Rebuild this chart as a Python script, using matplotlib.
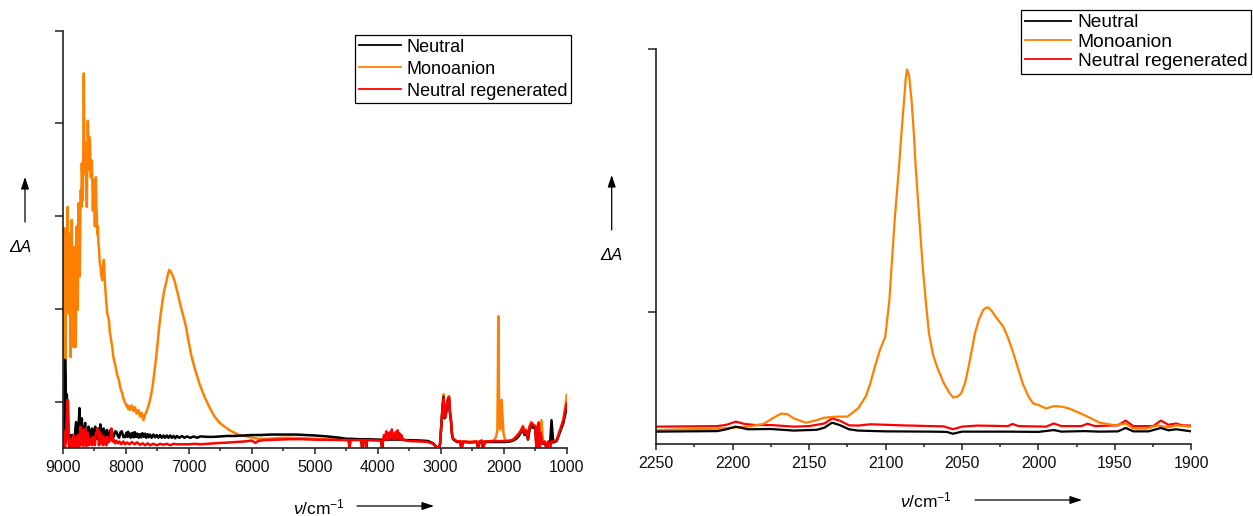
import numpy as np
import matplotlib
matplotlib.use("Agg")
import matplotlib.pyplot as plt
from matplotlib.patches import FancyArrowPatch
from matplotlib.ticker import MultipleLocator, NullFormatter

plt.rcParams["font.family"] = ["Liberation Sans", "DejaVu Sans"]
plt.rcParams["mathtext.fontset"] = "custom"
plt.rcParams["mathtext.rm"] = "Liberation Sans"
plt.rcParams["mathtext.it"] = "Liberation Sans:italic"

# ---------------- full range spectra (left panel) ----------------
series_names = ["Neutral", "Monoanion", "Neutral regenerated"]
series_colors = ["#000000", "#FF8000", "#FF0000"]

# monoanion, 9000-4600 cm-1
mono_x = [9000, 8997, 8984, 8976, 8968, 8960, 8952, 8944, 8936, 8928, 8920, 8912,
          8904, 8896, 8888, 8880, 8872, 8864, 8856, 8848, 8840, 8832, 8824, 8816,
          8809, 8801, 8793, 8785, 8777, 8769, 8761, 8753, 8745, 8737, 8729, 8721,
          8713, 8705, 8697, 8689, 8681, 8673, 8665, 8657, 8649, 8641, 8633, 8625,
          8617, 8609, 8601, 8593, 8585, 8577, 8569, 8561, 8553, 8545, 8537, 8529,
          8521, 8513, 8505, 8497, 8489, 8481, 8473, 8465, 8457, 8449, 8441, 8433,
          8426, 8412, 8399, 8385, 8372, 8359, 8346, 8332, 8319, 8306, 8293, 8280,
          8266, 8252, 8239, 8226, 8213, 8200, 8186, 8173, 8160, 8146, 8133, 8120,
          8106, 8093, 8080, 8066, 8053, 8040, 8026, 8013, 8000, 7987, 7973, 7960,
          7947, 7933, 7920, 7907, 7894, 7880, 7867, 7853, 7840, 7827, 7813, 7800,
          7787, 7773, 7760, 7747, 7734, 7720, 7707, 7694, 7681, 7655, 7628, 7600,
          7574, 7548, 7521, 7495, 7468, 7441, 7415, 7388, 7362, 7335, 7309, 7282,
          7255, 7228, 7202, 7175, 7149, 7122, 7096, 7070, 7043, 7015, 6960, 6900,
          6833, 6760, 6700, 6640, 6590, 6520, 6450, 6347, 6200, 6044, 5900, 5740,
          5500, 5376, 5200, 5000, 4800, 4600]
mono_y = [0.15, 2.35, 1.45, 2.20, 2.37, 1.30, 0.95, 1.90, 1.67, 2.10, 2.60, 1.80,
          1.45, 1.95, 2.31, 1.50, 0.98, 1.80, 2.46, 2.00, 1.67, 1.20, 1.09, 1.70,
          2.17, 1.60, 1.09, 1.90, 2.39, 1.80, 1.49, 2.20, 2.64, 2.10, 1.85, 2.40,
          2.78, 2.60, 3.07, 2.90, 2.67, 3.20, 4.04, 3.30, 2.96, 3.10, 3.28, 2.90,
          2.60, 3.20, 3.53, 3.30, 3.00, 3.20, 3.35, 3.10, 2.92, 3.05, 3.10, 2.80,
          2.56, 2.75, 2.89, 2.60, 2.39, 2.70, 2.92, 2.60, 2.46, 2.30, 2.39, 2.20,
          2.17, 2.00, 1.95, 1.85, 1.81, 1.95, 2.03, 1.80, 1.67, 1.55, 1.45, 1.42,
          1.38, 1.25, 1.20, 1.14, 1.09, 1.00, 0.95, 0.91, 0.88, 0.83, 0.78, 0.76,
          0.73, 0.67, 0.64, 0.61, 0.59, 0.54, 0.52, 0.49, 0.48, 0.45, 0.46, 0.42,
          0.45, 0.41, 0.43, 0.46, 0.45, 0.40, 0.41, 0.44, 0.41, 0.37, 0.38, 0.41,
          0.39, 0.34, 0.36, 0.38, 0.34, 0.30, 0.32, 0.36, 0.37, 0.42, 0.48, 0.56,
          0.66, 0.80, 0.95, 1.12, 1.31, 1.46, 1.59, 1.70, 1.77, 1.86, 1.92, 1.90,
          1.86, 1.81, 1.74, 1.67, 1.59, 1.52, 1.45, 1.38, 1.31, 1.20, 1.00, 0.85,
          0.70, 0.57, 0.48, 0.40, 0.34, 0.28, 0.24, 0.19, 0.14, 0.12, 0.10, 0.10,
          0.11, 0.11, 0.105, 0.10, 0.095, 0.09]

# neutral, 9000-4600 cm-1
neut_x = [9000, 8985, 8970, 8962, 8950, 8935, 8920, 8905, 8893, 8880, 8866, 8850,
          8840, 8826, 8813, 8800, 8787, 8773, 8760, 8747, 8734, 8726, 8718, 8707,
          8696, 8683, 8670, 8657, 8643, 8630, 8616, 8603, 8590, 8577, 8563, 8550,
          8536, 8523, 8510, 8497, 8483, 8470, 8456, 8443, 8430, 8417, 8403, 8390,
          8376, 8363, 8350, 8336, 8323, 8310, 8296, 8280, 8264, 8245, 8227, 8208,
          8190, 8168, 8147, 8125, 8104, 8083, 8062, 8038, 8014, 7988, 7975, 7961,
          7948, 7934, 7920, 7907, 7894, 7880, 7867, 7854, 7834, 7814, 7794, 7774,
          7754, 7734, 7714, 7694, 7674, 7654, 7634, 7614, 7588, 7561, 7534, 7508,
          7481, 7455, 7428, 7401, 7375, 7348, 7321, 7294, 7268, 7241, 7214, 7188,
          7148, 7108, 7068, 7028, 6975, 6920, 6868, 6815, 6700, 6602, 6500, 6388,
          6250, 6122, 6000, 5855, 5700, 5500, 5300, 5000, 4800, 4600]
neut_y = [0.00, 0.02, 0.15, 0.95, 0.55, 0.58, 0.40, 0.10, 0.10, 0.02, 0.14, 0.03,
          0.14, 0.05, 0.03, 0.20, 0.28, 0.06, 0.07, 0.25, 0.43, 0.10, 0.03, 0.20,
          0.32, 0.08, 0.07, 0.20, 0.27, 0.05, 0.09, 0.18, 0.23, 0.06, 0.09, 0.18,
          0.21, 0.08, 0.10, 0.20, 0.23, 0.10, 0.10, 0.18, 0.21, 0.11, 0.255, 0.10,
          0.12, 0.20, 0.21, 0.12, 0.12, 0.18, 0.195, 0.13, 0.12, 0.19, 0.195, 0.13,
          0.12, 0.18, 0.175, 0.13, 0.11, 0.17, 0.18, 0.12, 0.115, 0.165, 0.12, 0.175,
          0.125, 0.15, 0.11, 0.16, 0.12, 0.165, 0.115, 0.17, 0.12, 0.155, 0.11, 0.15,
          0.115, 0.16, 0.12, 0.155, 0.11, 0.15, 0.115, 0.145, 0.11, 0.145, 0.115, 0.14,
          0.11, 0.14, 0.11, 0.135, 0.11, 0.135, 0.11, 0.135, 0.11, 0.13, 0.105, 0.13,
          0.11, 0.13, 0.11, 0.125, 0.11, 0.125, 0.11, 0.125, 0.12, 0.12, 0.125, 0.13,
          0.13, 0.135, 0.14, 0.14, 0.145, 0.145, 0.145, 0.135, 0.125, 0.11]

# neutral regenerated, 9000-4600 cm-1
regen_x = [9000, 8992, 8984, 8976, 8960, 8945, 8925, 8915, 8905, 8893, 8880, 8866,
           8855, 8840, 8826, 8813, 8800, 8787, 8773, 8760, 8747, 8734, 8718, 8707,
           8696, 8683, 8670, 8657, 8638, 8625, 8610, 8600, 8585, 8570, 8550, 8535,
           8520, 8505, 8490, 8475, 8456, 8440, 8425, 8410, 8395, 8380, 8365, 8350,
           8335, 8320, 8305, 8290, 8270, 8245, 8227, 8210, 8190, 8170, 8150, 8125,
           8100, 8070, 8040, 8010, 7980, 7940, 7900, 7860, 7820, 7774, 7730, 7694,
           7650, 7614, 7560, 7508, 7450, 7401, 7350, 7294, 7240, 7188, 7100, 7000,
           6900, 6815, 6700, 6602, 6500, 6388, 6250, 6122, 6000, 5940, 5900, 5800,
           5600, 5400, 5200, 5000, 4800, 4600]
regen_y = [0.00, 0.19, 0.19, 0.00, 0.02, 0.10, 0.52, 0.50, 0.05, 0.00, 0.05, 0.10,
           0.00, 0.10, 0.14, 0.00, 0.08, 0.10, 0.02, 0.14, 0.00, 0.05, 0.23, 0.03,
           0.05, 0.20, 0.02, 0.10, 0.21, 0.02, 0.10, 0.16, 0.03, 0.06, 0.10, 0.03,
           0.12, 0.05, 0.03, 0.15, 0.18, 0.21, 0.03, 0.17, 0.05, 0.14, 0.03, 0.12,
           0.04, 0.10, 0.03, 0.12, 0.06, 0.10, 0.21, 0.07, 0.09, 0.05, 0.08, 0.05,
           0.07, 0.04, 0.07, 0.04, 0.06, 0.04, 0.065, 0.04, 0.06, 0.035, 0.05, 0.03,
           0.05, 0.03, 0.045, 0.03, 0.045, 0.035, 0.045, 0.03, 0.045, 0.04, 0.04, 0.04,
           0.045, 0.04, 0.045, 0.05, 0.055, 0.058, 0.065, 0.07, 0.08, 0.055, 0.075, 0.085,
           0.09, 0.095, 0.095, 0.09, 0.088, 0.086]

# low wavenumber part on a shared x grid, 4500-1000 cm-1
tail_x = [4500, 4460, 4447, 4435, 4300, 4260, 4247, 4235, 4195, 4183, 4171, 4000,
          3945, 3930, 3915, 3900, 3880, 3865, 3850, 3835, 3820, 3805, 3790, 3775,
          3760, 3745, 3730, 3715, 3700, 3685, 3670, 3655, 3640, 3625, 3600, 3560,
          3500, 3300, 3200, 3120, 3080, 3050, 3030, 3010, 2990, 2970, 2955, 2940,
          2926, 2912, 2900, 2880, 2868, 2855, 2837, 2820, 2805, 2742, 2689, 2675,
          2663, 2650, 2531, 2425, 2410, 2399, 2385, 2346, 2330, 2319, 2305, 2267,
          2161, 2120, 2100, 2092, 2086, 2080, 2070, 2055, 2045, 2032, 2020, 2003,
          1976, 1900, 1850, 1800, 1760, 1722, 1695, 1668, 1642, 1615, 1588, 1561,
          1535, 1497, 1481, 1465, 1444, 1428, 1412, 1401, 1375, 1348, 1321, 1294,
          1267, 1241, 1214, 1160, 1107, 1053, 1011, 1000]
regen_tail = [0.085, 0.085, 0.0, 0.085, 0.085, 0.085, 0.0, 0.085, 0.085, 0.0, 0.085, 0.08,
              0.08, 0.0, 0.08, 0.14, 0.09, 0.18, 0.10, 0.16, 0.09, 0.17, 0.11, 0.20,
              0.10, 0.15, 0.09, 0.17, 0.11, 0.19, 0.10, 0.16, 0.09, 0.14, 0.09, 0.085,
              0.075, 0.07, 0.065, 0.045, 0.02, 0.0, 0.0, 0.05, 0.25, 0.45, 0.54, 0.33,
              0.34, 0.40, 0.48, 0.54, 0.55, 0.40, 0.30, 0.15, 0.105, 0.07, 0.075, 0.01,
              0.01, 0.07, 0.065, 0.07, 0.01, 0.01, 0.07, 0.08, 0.01, 0.01, 0.07, 0.07,
              0.075, 0.075, 0.075, 0.075, 0.075, 0.075, 0.075, 0.075, 0.075, 0.075, 0.075, 0.075,
              0.075, 0.08, 0.09, 0.12, 0.15, 0.19, 0.23, 0.16, 0.19, 0.10, 0.23, 0.27,
              0.25, 0.23, 0.01, 0.21, 0.27, 0.0, 0.16, 0.08, 0.05, 0.07, 0.0, 0.07,
              0.0, 0.07, 0.07, 0.085, 0.19, 0.30, 0.45, 0.48]
neut_tail = [0.10, 0.10, 0.0, 0.10, 0.095, 0.095, 0.0, 0.095, 0.095, 0.0, 0.095, 0.09,
             0.09, 0.0, 0.09, 0.09, 0.09, 0.10, 0.09, 0.10, 0.09, 0.10, 0.09, 0.11,
             0.09, 0.10, 0.09, 0.10, 0.09, 0.11, 0.09, 0.10, 0.09, 0.09, 0.09, 0.085,
             0.085, 0.08, 0.075, 0.05, 0.02, 0.0, 0.0, 0.04, 0.24, 0.44, 0.55, 0.32,
             0.33, 0.39, 0.47, 0.53, 0.54, 0.39, 0.29, 0.14, 0.095, 0.065, 0.065, 0.01,
             0.01, 0.065, 0.06, 0.065, 0.01, 0.01, 0.065, 0.07, 0.01, 0.01, 0.065, 0.065,
             0.065, 0.065, 0.065, 0.065, 0.065, 0.065, 0.065, 0.065, 0.065, 0.065, 0.065, 0.065,
             0.065, 0.07, 0.08, 0.10, 0.13, 0.17, 0.20, 0.14, 0.17, 0.09, 0.20, 0.24,
             0.22, 0.21, 0.01, 0.19, 0.24, 0.0, 0.14, 0.07, 0.045, 0.06, 0.0, 0.06,
             0.0, 0.30, 0.06, 0.075, 0.17, 0.27, 0.40, 0.44]
mono_tail = [0.09, 0.09, 0.0, 0.09, 0.088, 0.088, 0.0, 0.088, 0.088, 0.0, 0.088, 0.085,
             0.085, 0.0, 0.085, 0.12, 0.09, 0.15, 0.10, 0.14, 0.09, 0.15, 0.10, 0.17,
             0.10, 0.13, 0.09, 0.15, 0.10, 0.16, 0.10, 0.14, 0.09, 0.12, 0.09, 0.085,
             0.08, 0.075, 0.07, 0.045, 0.02, 0.0, 0.0, 0.05, 0.26, 0.46, 0.58, 0.34,
             0.35, 0.41, 0.49, 0.55, 0.56, 0.41, 0.31, 0.15, 0.10, 0.07, 0.07, 0.01,
             0.01, 0.07, 0.065, 0.07, 0.01, 0.01, 0.07, 0.08, 0.01, 0.01, 0.07, 0.07,
             0.08, 0.12, 0.20, 0.80, 1.42, 0.80, 0.30, 0.20, 0.35, 0.52, 0.35, 0.16,
             0.08, 0.075, 0.09, 0.13, 0.16, 0.20, 0.24, 0.17, 0.20, 0.11, 0.24, 0.28,
             0.26, 0.24, 0.01, 0.22, 0.28, 0.0, 0.17, 0.30, 0.06, 0.07, 0.0, 0.07,
             0.0, 0.07, 0.07, 0.08, 0.18, 0.31, 0.50, 0.57]

# ---------------- CN stretch region (right panel) ----------------
zoom_mono_x = [2250, 2230, 2210, 2200, 2190, 2180, 2172, 2168, 2164, 2160, 2152, 2146,
               2140, 2132, 2125, 2118, 2113, 2110, 2107, 2103.7, 2100.2, 2097.5, 2096.1,
               2093.9, 2091.2, 2089.5, 2087.9, 2086.8, 2086, 2084.6, 2083, 2081.5, 2080.3,
               2078, 2075.7, 2073.5, 2071.6, 2069, 2066.2, 2062, 2058, 2055.8, 2053,
               2050.6, 2048, 2045.7, 2043.5, 2041.6, 2038.8, 2036.2, 2034.5, 2032.9, 2030.5,
               2028, 2023.1, 2020, 2017.1, 2013.5, 2010.3, 2006.5, 2003.5, 2000, 1995,
               1990, 1985, 1980, 1970, 1960, 1950, 1943, 1938, 1930, 1922, 1915, 1910, 1900]
zoom_mono_y = [0.053, 0.056, 0.058, 0.062, 0.066, 0.076, 0.104, 0.116, 0.113, 0.097, 0.081, 0.089,
               0.100, 0.104, 0.104, 0.135, 0.180, 0.230, 0.294, 0.357, 0.408, 0.547, 0.673,
               0.863, 1.053, 1.190, 1.306, 1.390, 1.423, 1.400, 1.306, 1.180, 1.053,
               0.860, 0.673, 0.530, 0.420, 0.340, 0.291, 0.232, 0.192, 0.177, 0.180,
               0.192, 0.232, 0.294, 0.360, 0.420, 0.475, 0.509, 0.517, 0.519, 0.505,
               0.484, 0.446, 0.405, 0.357, 0.290, 0.230, 0.180, 0.154, 0.148, 0.135,
               0.144, 0.142, 0.135, 0.110, 0.081, 0.071, 0.078, 0.059, 0.058, 0.071, 0.063, 0.071, 0.066]

zoom_regen_x = [2250, 2230, 2210, 2204, 2198, 2192, 2185, 2175, 2160, 2150, 2140, 2135,
                2130, 2124, 2118, 2110, 2090, 2070, 2062, 2056, 2050, 2040, 2020, 2017,
                2013, 1995, 1990, 1985, 1972, 1968, 1963, 1948, 1943, 1938, 1925, 1920,
                1915, 1910, 1906, 1900]
zoom_regen_y = [0.066, 0.067, 0.068, 0.073, 0.085, 0.076, 0.072, 0.072, 0.066, 0.068, 0.078, 0.097,
                0.089, 0.071, 0.070, 0.075, 0.071, 0.068, 0.067, 0.056, 0.066, 0.070, 0.068, 0.076,
                0.068, 0.066, 0.078, 0.068, 0.068, 0.077, 0.068, 0.071, 0.089, 0.068, 0.068, 0.089,
                0.073, 0.078, 0.071, 0.070]

zoom_neut_x = [2250, 2210, 2204, 2198, 2190, 2175, 2160, 2145, 2140, 2135, 2130, 2124,
               2118, 2100, 2070, 2060, 2056, 2050, 2020, 2000, 1990, 1985, 1970, 1960,
               1948, 1943, 1938, 1928, 1920, 1915, 1910, 1900]
zoom_neut_y = [0.047, 0.049, 0.056, 0.066, 0.056, 0.057, 0.051, 0.054, 0.062, 0.081, 0.072, 0.056,
               0.051, 0.048, 0.047, 0.046, 0.039, 0.047, 0.047, 0.046, 0.053, 0.047, 0.049, 0.047,
               0.048, 0.061, 0.048, 0.048, 0.061, 0.052, 0.056, 0.048]

W, H = 1253, 516
fig = plt.figure(figsize=(W / 100, H / 100), dpi=100)


def fx(px):
    return px / W


def fy(py):
    return 1 - py / H


def style_axes(ax):
    for side in ("top", "right"):
        ax.spines[side].set_visible(False)
    for side in ("left", "bottom"):
        ax.spines[side].set_linewidth(1.2)
        ax.spines[side].set_color("#222222")
    ax.tick_params(axis="x", which="major", direction="out", length=4, width=1.1,
                   labelsize=11.5, pad=4.5, color="#222222", labelcolor="#111111")
    ax.tick_params(axis="x", which="minor", direction="out", length=2.5, width=1.1,
                   color="#222222")
    ax.tick_params(axis="y", which="major", direction="out", length=5.5, width=1.1,
                   color="#222222")
    ax.yaxis.set_major_formatter(NullFormatter())


def add_legend(ax, anchor, size, spacing, handle):
    h, l = ax.get_legend_handles_labels()
    idx = [l.index(n) for n in series_names]
    leg = ax.legend([h[i] for i in idx], [l[i] for i in idx], loc="upper right",
                    bbox_to_anchor=(fx(anchor[0]), fy(anchor[1])),
                    bbox_transform=fig.transFigure, fontsize=size, frameon=True,
                    fancybox=False, edgecolor="black", framealpha=1, borderaxespad=0,
                    borderpad=0.2, handlelength=handle, handletextpad=0.35,
                    labelspacing=spacing)
    leg.get_frame().set_linewidth(0.9)
    for line in leg.get_lines():
        line.set_linewidth(1.3)


def draw_labels(x_label, x_arrow, y_label, y_arrow, baseline):
    # wavenumber label with its arrow, and the ΔA label with an upward arrow
    fig.text(fx(x_label), fy(baseline), r"$\nu$/cm$^{-1}$", fontsize=12.5,
             ha="left", va="baseline")
    fig.text(fx(y_label[0]), fy(y_label[1]), "\u0394A", fontsize=12, style="italic",
             ha="center", va="center")
    style = "-|>,head_length=0.6,head_width=0.2"
    fig.add_artist(FancyArrowPatch(
        (fx(x_arrow[0]), fy(x_arrow[2])), (fx(x_arrow[1]), fy(x_arrow[2])),
        transform=fig.transFigure, arrowstyle=style, mutation_scale=12, lw=0.9,
        color="black", shrinkA=0, shrinkB=0))
    fig.add_artist(FancyArrowPatch(
        (fx(y_arrow[0]), fy(y_arrow[1])), (fx(y_arrow[0]), fy(y_arrow[2])),
        transform=fig.transFigure, arrowstyle=style, mutation_scale=12, lw=0.9,
        color="black", shrinkA=0, shrinkB=0))


# left panel: 9000-1000 cm-1
ax1 = fig.add_axes([fx(62.7), fy(448), fx(566.7 - 62.7), (448 - 30.7) / H])
full_x = [neut_x + tail_x, mono_x + tail_x, regen_x + tail_x]
full_y = [neut_y + neut_tail, mono_y + mono_tail, regen_y + regen_tail]
for order in (1, 0, 2):
    ax1.plot(full_x[order], full_y[order], color=series_colors[order], lw=1.8,
             label=series_names[order])
ax1.set_xlim(9000, 1000)
ax1.set_ylim(0, 4.5)
ax1.xaxis.set_major_locator(MultipleLocator(1000))
ax1.xaxis.set_minor_locator(MultipleLocator(500))
ax1.set_yticks([0.5, 1.5, 2.5, 3.5, 4.5])
style_axes(ax1)
add_legend(ax1, (571, 35), 13, 0.28, 2.3)
draw_labels(293, (357, 434, 506), (20, 248), (25, 222, 177), 514)

# right panel: 2250-1900 cm-1
ax2 = fig.add_axes([fx(656.2), fy(444), fx(1191.4 - 656.2), (444 - 49.3) / H])
zoom_x = [zoom_neut_x, zoom_mono_x, zoom_regen_x]
zoom_y = [zoom_neut_y, zoom_mono_y, zoom_regen_y]
for order in (2, 1, 0):
    ax2.plot(zoom_x[order], zoom_y[order], color=series_colors[order], lw=1.6,
             label=series_names[order])
ax2.set_xlim(2250, 1900)
ax2.set_ylim(0, 1.5)
ax2.xaxis.set_major_locator(MultipleLocator(50))
ax2.xaxis.set_minor_locator(MultipleLocator(25))
ax2.set_yticks([0.5, 1.5])
style_axes(ax2)
add_legend(ax2, (1251, 10), 13.8, 0.1, 2.4)
draw_labels(900, (975, 1082, 500), (611, 255), (611.7, 230, 175), 507)

fig.savefig("out.png", dpi=100)
